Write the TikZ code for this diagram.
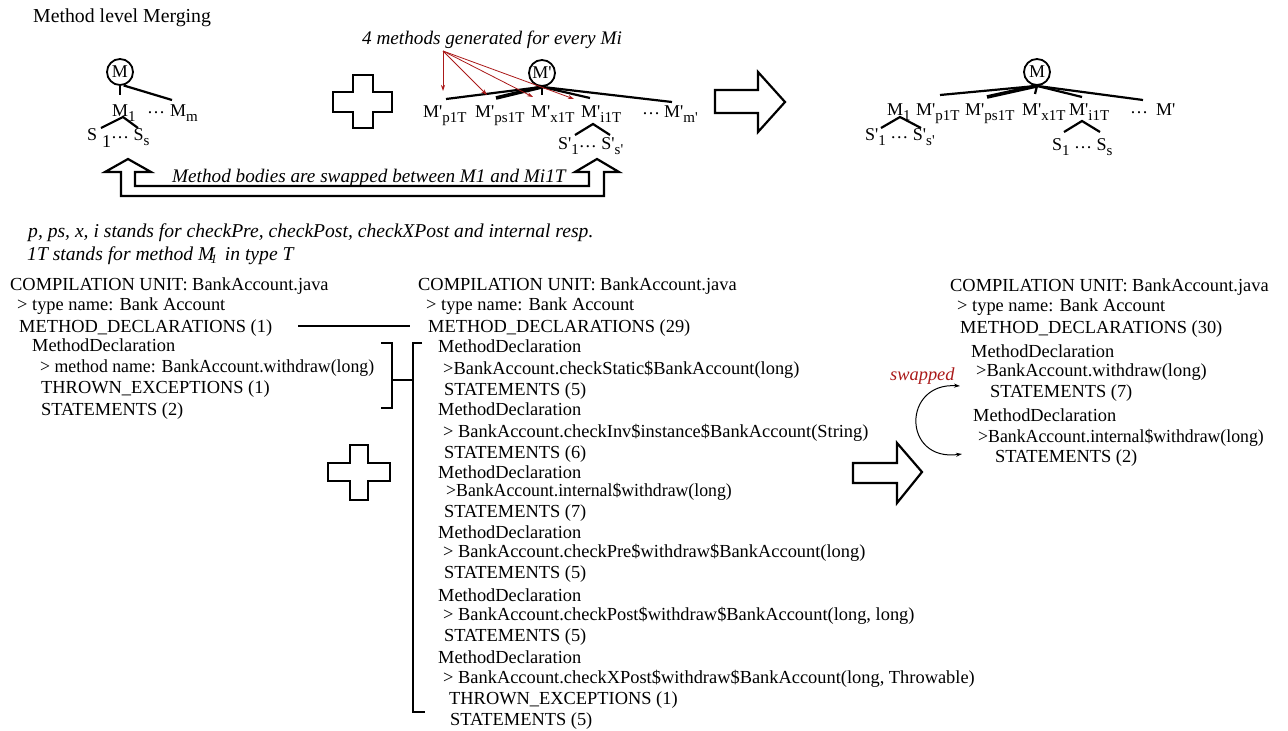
\documentclass[tikz,border=0pt]{standalone}
\usepackage{fontspec}
\setmainfont{Liberation Serif}
\usetikzlibrary{arrows.meta}
\definecolor{redarrow}{RGB}{170,25,25}
\newcommand\fs{\fontsize{18.4}{20}\selectfont}
\newcommand\ifs{\fontsize{19.2}{20}\selectfont\itshape}
\newcommand\tfs{\fontsize{18}{20}\selectfont}
\newcommand\sbs[1]{\raisebox{-5pt}{\fontsize{15}{16}\selectfont #1}}
\newcommand\mdots{\raisebox{2pt}{…}}
\newcommand\pr{\textquotesingle}
\newcommand\cnd[1]{\scalebox{0.965}[1]{#1}}
\begin{document}
\begin{tikzpicture}[x=1pt,y=-1pt,
 txt/.style={anchor=base west, inner sep=0pt, font=\fs},
 itx/.style={anchor=base west, inner sep=0pt, font=\ifs},
 tree/.style={anchor=base west, inner sep=0pt, font=\tfs},
 br/.style={line width=2.2pt},
 thickbr/.style={line width=3.6pt},
 circ/.style={circle, draw, line width=1.8pt, minimum size=26pt, inner sep=0pt, font=\tfs},
 outl/.style={line width=2.2pt, line join=miter},
 redar/.style={draw=redarrow, line width=0.8pt, -{Stealth[length=6pt,width=4pt]}},
 brk/.style={line width=1.3pt}]
\useasboundingbox (0,0) rectangle (1288,731);

% title
\node[anchor=base west, inner sep=0pt, font=\fontsize{19.8}{20}\selectfont] (title) at (33,22) {Method level Merging};

% ---------- tree 1
\node[circ] (c1) at (120,72) {M};
\coordinate (c1a) at (120,95);
\coordinate (c1b) at (172,100);
\draw[br] (c1.south) -- (c1a);
\draw[br] (c1.-75) -- (c1b);
\node[tree] (m1) at (112,116) {M\sbs{1}};
\node[tree] (m1d) at (147,113) {…};
\node[tree] (mm) at (170,116) {M\sbs{m}};
\coordinate (b1) at (123,117);
\coordinate (b1l) at (101,128);
\coordinate (b1r) at (138,128);
\draw[br] (b1l) -- (b1) -- (b1r);
\node[tree] (s1) at (87,140) {S\hspace{5pt}\raisebox{-7pt}{1}\mdots\ S\sbs{s}};

% plus 1
\draw[outl] (353,75) -- (373,75) -- (373,92) -- (392,92) -- (392,112) -- (373,112) -- (373,128) -- (353,128) -- (353,112) -- (333,112) -- (333,92) -- (353,92) -- cycle;

% ---------- tree 2
\node[itx] (gen) at (362,44) {4 methods generated for every Mi};
\node[circ] (c2) at (542,73) {M\pr};
\coordinate (e1) at (446,99);
\coordinate (e2) at (496,98);
\coordinate (e3) at (542,95);
\coordinate (e4) at (590,98);
\coordinate (e5) at (672,102);
\draw[br] (c2.south) -- (e1);
\draw[thickbr] (c2.south) -- (e2);
\draw[br] (c2.south) -- (e3);
\draw[br] (c2.south) -- (e4);
\draw[br] (c2.south) -- (e5);
\node[tree] (p1) at (423,117) {M\pr\sbs{p1T}};
\node[tree] (p2) at (475,117) {M\pr\sbs{ps1T}};
\node[tree] (p3) at (531,117) {M\pr\sbs{x1T}};
\node[tree] (p4) at (581,117) {M\pr\sbs{i1T}};
\node[tree] (p5) at (642,114) {…};
\node[tree] (p6) at (664,117) {M\pr\sbs{m\pr}};
\coordinate (b2) at (593,124);
\coordinate (b2l) at (575,135);
\coordinate (b2r) at (610,135);
\draw[br] (b2l) -- (b2) -- (b2r);
\node[tree] (s2) at (558,149) {S\pr\sbs{1}\mdots\ S\pr\sbs{s\pr}};
\coordinate (rs) at (443,51);
\coordinate (r1) at (443,91);
\coordinate (r2) at (487,95);
\coordinate (r3) at (533,97);
\coordinate (r4) at (574,99);
\foreach \t in {r1,r2,r3,r4} \draw[redar] (rs) -- (\t);

% arrow 1
\draw[outl] (715,90) -- (758,90) -- (758,72) -- (785,102) -- (758,132) -- (758,113) -- (715,113) -- cycle;

% ---------- tree 3
\node[circ] (c3) at (1037,72) {M};
\coordinate (f1) at (940,95);
\coordinate (f2) at (987,97);
\coordinate (f3) at (1035,94);
\coordinate (f4) at (1082,97);
\coordinate (f5) at (1143,100);
\draw[br] (c3.south) -- (f1);
\draw[thickbr] (c3.south) -- (f2);
\draw[br] (c3.south) -- (f3);
\draw[br] (c3.south) -- (f4);
\draw[br] (c3.south) -- (f5);
\node[tree] (q0) at (887,115) {M\sbs{1}};
\node[tree] (q1) at (916,115) {M\pr\sbs{p1T}};
\node[tree] (q2) at (965,115) {M\pr\sbs{ps1T}};
\node[tree] (q3) at (1022,115) {M\pr\sbs{x1T}};
\node[tree] (q4) at (1069,115) {M\pr\sbs{i1T}};
\node[tree] (q5) at (1130,113) {…};
\node[tree] (q6) at (1156,115) {M\pr};
\coordinate (b3) at (900,117);
\coordinate (b3l) at (881,128);
\coordinate (b3r) at (921,128);
\draw[br] (b3l) -- (b3) -- (b3r);
\node[tree] (s3) at (865,140) {S\pr\sbs{1}\ \mdots\ S\pr\sbs{s\pr}};
\coordinate (b4) at (1082,121);
\coordinate (b4l) at (1064,132);
\coordinate (b4r) at (1100,132);
\draw[br] (b4l) -- (b4) -- (b4r);
\node[tree] (s4) at (1052,150) {S\sbs{1}\ \mdots\ S\sbs{s}};

% swap U arrow
\draw[outl] (128,159) -- (151,172) -- (135,172) -- (135,186) -- (589,186) -- (589,172) -- (575,172) -- (597,159) -- (619,172) -- (604,172) -- (604,196) -- (121,196) -- (121,172) -- (105,172) -- cycle;
\node[itx] (swaptxt) at (172,182) {Method bodies are swapped between M1 and Mi1T};

% legend
\node[anchor=base west, inner sep=0pt, font=\fontsize{19.6}{20}\selectfont\itshape] (leg1) at (28,237) {p, ps, x, i stands for checkPre, checkPost, checkXPost and internal resp.};
\node[anchor=base west, inner sep=0pt, font=\fontsize{19.6}{20}\selectfont\itshape] (leg2) at (27,260) {1T stands for method M\kern-4pt\raisebox{-3pt}{\fontsize{13}{13}\selectfont 1}\kern3pt{} in type T};

% ---------- left column
\node[txt] (l1) at (10,290) {COMPILATION UNIT: BankAccount.java};
\node[txt] (l2) at (17,310) {> type name: Bank Account};
\node[txt] (l3) at (19,332) {METHOD\_DECLARATIONS (1)};
\node[txt] (l4) at (32,351) {MethodDeclaration};
\node[txt] (l5) at (40,372) {\cnd{> method name: BankAccount.withdraw(long)}};
\node[txt] (l6) at (41,393) {THROWN\_EXCEPTIONS (1)};
\node[txt] (l7) at (41,415) {STATEMENTS (2)};

% ---------- middle column
\node[txt] (m01) at (418,290) {COMPILATION UNIT: BankAccount.java};
\node[txt] (m02) at (426,310) {> type name: Bank Account};
\node[txt] (m03) at (428,332) {METHOD\_DECLARATIONS (29)};
\node[txt] (m04) at (438,352) {MethodDeclaration};
\node[txt] (m05) at (443,374) {>BankAccount.checkStatic\$BankAccount(long)};
\node[txt] (m06) at (444,395) {STATEMENTS (5)};
\node[txt] (m07) at (438,415) {MethodDeclaration};
\node[txt] (m08) at (443,437) {> BankAccount.checkInv\$instance\$BankAccount(String)};
\node[txt] (m09) at (444,458) {STATEMENTS (6)};
\node[txt] (m10) at (438,478) {MethodDeclaration};
\node[txt] (m11) at (446,496) {\cnd{>BankAccount.internal\$withdraw(long)}};
\node[txt] (m12) at (444,517) {STATEMENTS (7)};
\node[txt] (m13) at (438,538) {MethodDeclaration};
\node[txt] (m14) at (443,557) {> BankAccount.checkPre\$withdraw\$BankAccount(long)};
\node[txt] (m15) at (444,578) {STATEMENTS (5)};
\node[txt] (m16) at (438,601) {MethodDeclaration};
\node[txt] (m17) at (443,620) {> BankAccount.checkPost\$withdraw\$BankAccount(long, long)};
\node[txt] (m18) at (444,641) {STATEMENTS (5)};
\node[txt] (m19) at (438,663) {MethodDeclaration};
\node[txt] (m20) at (443,683) {> BankAccount.checkXPost\$withdraw\$BankAccount(long, Throwable)};
\node[txt] (m21) at (449,704) {THROWN\_EXCEPTIONS (1)};
\node[txt] (m22) at (450,725) {STATEMENTS (5)};

% ---------- right column
\node[txt] (r01) at (950,291) {COMPILATION UNIT: BankAccount.java};
\node[txt] (r02) at (957,311) {> type name: Bank Account};
\node[txt] (r03) at (960,333) {METHOD\_DECLARATIONS (30)};
\node[txt] (r04) at (971,357) {MethodDeclaration};
\node[txt] (r05) at (976,376) {>BankAccount.withdraw(long)};
\node[txt] (r06) at (990,397) {STATEMENTS (7)};
\node[txt] (r07) at (973,421) {MethodDeclaration};
\node[txt] (r08) at (978,442) {\cnd{>BankAccount.internal\$withdraw(long)}};
\node[txt] (r09) at (995,462) {STATEMENTS (2)};

% connector lines and brackets
\coordinate (la) at (298,326);
\coordinate (lb) at (410,326);
\draw[brk] (la) -- (lb);
\draw[brk] (381,343) -- (392,343) -- (392,408) -- (381,408);
\draw[brk] (392,380) -- (413,380);
\draw[brk] (422,343) -- (413,343) -- (413,712) -- (425,712);

% plus 2
\draw[outl] (350,445) -- (368,445) -- (368,463) -- (390,463) -- (390,481) -- (368,481) -- (368,500) -- (350,500) -- (350,481) -- (328,481) -- (328,463) -- (350,463) -- cycle;

% arrow 2
\draw[outl] (853,463) -- (897,463) -- (897,443) -- (922,472) -- (897,503) -- (897,483) -- (853,483) -- cycle;

% swapped
\node[anchor=base west, inner sep=0pt, font=\fs\itshape, text=redarrow] (swp) at (890,380) {swapped};
\coordinate (sa) at (960,386);
\coordinate (sb) at (962,454);
\draw[line width=1pt, {Stealth[length=6pt,width=4pt]}-{Stealth[length=6pt,width=4pt]}] (sa) .. controls (902,382) and (902,462) .. (sb);
\end{tikzpicture}
\end{document}
